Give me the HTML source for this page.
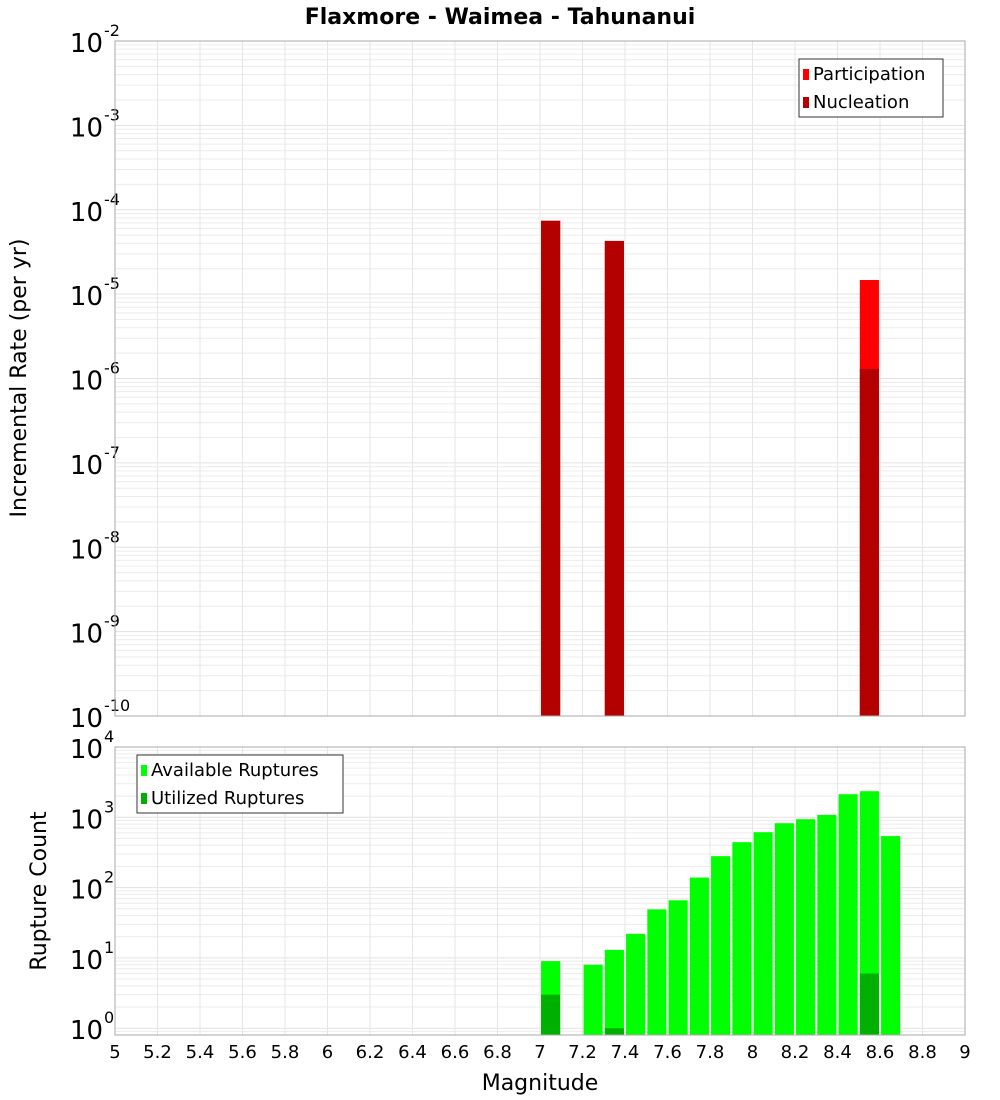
<!DOCTYPE html>
<html><head><meta charset="utf-8"><style>
body{margin:0;background:#fff;}
svg{display:block;font-family:"DejaVu Sans","Liberation Sans",sans-serif;}
</style></head><body>
<svg id="chart" width="1000" height="1100" viewBox="0 0 1000 1100" xmlns="http://www.w3.org/2000/svg">
<text x="500" y="24" text-anchor="middle" font-size="22" font-weight="bold">Flaxmore - Waimea - Tahunanui</text>
<g id="top"></g><g id="bot"></g>
<text transform="translate(26,378) rotate(-90)" text-anchor="middle" font-size="22">Incremental Rate (per yr)</text>
<text transform="translate(46,891) rotate(-90)" text-anchor="middle" font-size="22">Rupture Count</text>
<text x="540" y="1090" text-anchor="middle" font-size="22">Magnitude</text>
</svg>
<script>
const topMags=[7.05,7.35,8.55];
const participation=[7.4e-5,4.27e-5,1.47e-5];
const nucleation=[7.4e-5,4.27e-5,1.30e-6];
const botMags=[7.05,7.25,7.35,7.45,7.55,7.65,7.75,7.85,7.95,8.05,8.15,8.25,8.35,8.45,8.55,8.65];
const available=[9,8,13,22,49,66,139,280,443,614,824,940,1082,2130,2350,540];
const utilMags=[7.05,7.35,8.55];
const utilized=[3,1,6];
const xTicks=[5,5.2,5.4,5.6,5.8,6,6.2,6.4,6.6,6.8,7,7.2,7.4,7.6,7.8,8,8.2,8.4,8.6,8.8,9];
const topExps=[-2,-3,-4,-5,-6,-7,-8,-9,-10];
const botExps=[4,3,2,1,0];

const NS="http://www.w3.org/2000/svg";
const X0=115,X1=965;
const xs=m=>X0+(m-5)/4*(X1-X0);
function el(p,t,a){const e=document.createElementNS(NS,t);for(const k in a)e.setAttribute(k,a[k]);p.appendChild(e);return e;}
const yTop=v=>41+(-2-Math.log10(v))*84.375;
const yBot=v=>747+(4-Math.log10(v))*70.3;

function panel(g,top,bottom,ys,lo,hi,exps,name){
  const bg=el(g,'rect',{x:X0,y:top,width:X1-X0,height:bottom-top,fill:'#fff'});
  
  
  for(let e=lo;e<hi;e++){for(let k=1;k<10;k++){const y=ys(k*Math.pow(10,e));if(y<top||y>bottom)continue;
    const l=el(g,'line',{x1:X0,x2:X1,y1:y,y2:y,stroke:k==1?'#e2e2e2':'#ececec','stroke-width':1});
    
    }}
  for(const t of xTicks){const x=xs(t);const l=el(g,'line',{x1:x,x2:x,y1:top,y2:bottom,stroke:'#e6e6e6','stroke-width':1});
    
    }
  for(const e of exps){const y=ys(Math.pow(10,e));
    const t=el(g,'text',{x:103,y:y+11,'text-anchor':'end','font-size':26});t.textContent='10';
    
    
    const s=el(g,'text',{x:104,y:y-5,'font-size':16});s.textContent=String(e);
    
    }
}
const gt=document.getElementById('top'),gb=document.getElementById('bot');
panel(gt,41,716,yTop,-10,-2,topExps,'top');
panel(gb,747,1035,yBot,-1,4,botExps,'bottom');
const bw=0.09*(X1-X0)/4;
topMags.forEach((m,i)=>{const r=el(gt,'rect',{x:xs(m)-bw/2,y:yTop(participation[i]),width:bw,height:716-yTop(participation[i]),fill:'#ff0000'});
  
  });
topMags.forEach((m,i)=>{const r=el(gt,'rect',{x:xs(m)-bw/2,y:yTop(nucleation[i]),width:bw,height:716-yTop(nucleation[i]),fill:'#b30000'});
  
  });
botMags.forEach((m,i)=>{const r=el(gb,'rect',{x:xs(m)-bw/2,y:yBot(available[i]),width:bw,height:1035-yBot(available[i]),fill:'#00ff00'});
  
  });
utilMags.forEach((m,i)=>{const r=el(gb,'rect',{x:xs(m)-bw/2,y:yBot(utilized[i]),width:bw,height:1035-yBot(utilized[i]),fill:'#00b000'});
  
  });
[[41,716],[747,1035]].forEach(([a,b])=>{const r=el(document.getElementById('chart'),'rect',{x:X0,y:a,width:X1-X0,height:b-a,fill:'none',stroke:'#aaa','stroke-width':1});
  
  });
xTicks.forEach(t=>{const tx=el(gb,'text',{x:xs(t),y:1058,'text-anchor':'middle','font-size':18});tx.textContent=String(t);
  
  });
function legend(g,x,y,w,items,name){
  const b=el(g,'rect',{x:x,y:y,width:w,height:58,fill:'#fff',stroke:'#333','stroke-width':1});
  
  
  items.forEach(([c,lab],i)=>{const sw=el(g,'rect',{x:x+4,y:y+10+i*28,width:6,height:11,fill:c});
    
    
    const t=el(g,'text',{x:x+14,y:y+21+i*28,'font-size':18});t.textContent=lab;
    
    });
}
legend(gt,799,59,144,[['#ff0000','Participation'],['#b30000','Nucleation']],'top-legend');
legend(gb,137,755,206,[['#00ff00','Available Ruptures'],['#00b000','Utilized Ruptures']],'bottom-legend');
</script>
</body></html>
